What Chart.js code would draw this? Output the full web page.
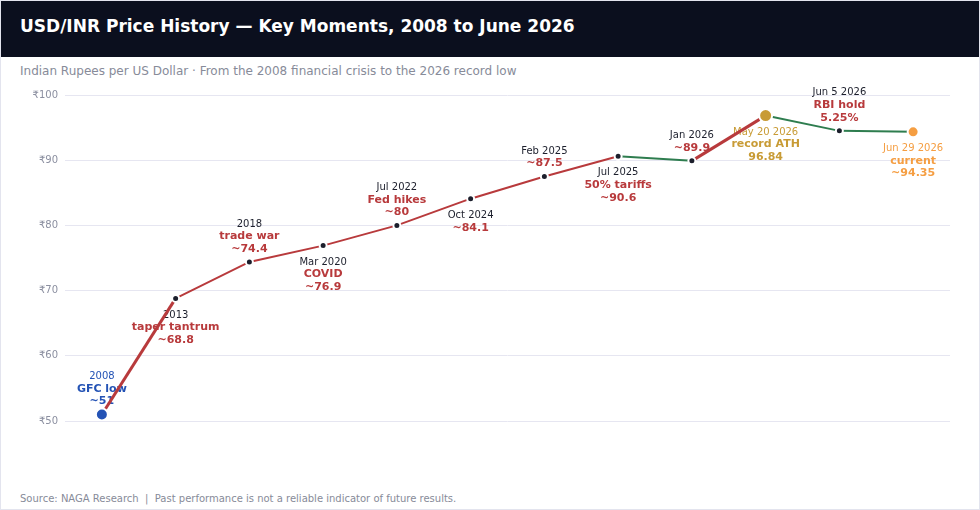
<!DOCTYPE html>
<html>
<head>
<meta charset="utf-8">
<title>USD/INR Price History</title>
<script src="https://cdn.jsdelivr.net/npm/chart.js@4/dist/chart.umd.min.js"></script>
<style>
  body { margin: 0; background: #fff; font-family: "DejaVu Sans", sans-serif; }
  .card {
    position: relative; width: 980px; height: 510px; box-sizing: border-box;
    border: 1px solid #e3e4ee; overflow: hidden; background: #fff;
  }
  .header { position: absolute; left: 0; top: 0; width: 100%; height: 56px; background: #0b0f1e; }
  .title { position: absolute; left: 19px; top: 15px; line-height: 20px; font-size: 17px; font-weight: bold; color: #fff; }
  .subtitle { position: absolute; left: 19px; top: 62px; line-height: 16px; font-size: 12px; color: #878b99; }
  .chart-wrap { position: absolute; left: 0; top: 80px; width: 978px; height: 353px; }
  .footer { position: absolute; left: 19px; top: 491px; line-height: 14px; font-size: 10px; color: #878b99; }
</style>
</head>
<body>
<div class="card">
  <div class="header"><div class="title">USD/INR Price History — Key Moments, 2008 to June 2026</div></div>
  <div class="subtitle">Indian Rupees per US Dollar · From the 2008 financial crisis to the 2026 record low</div>
  <div class="chart-wrap"><canvas id="inrChart"></canvas></div>
  <div class="footer">Source: NAGA Research &nbsp;|&nbsp; Past performance is not a reliable indicator of future results.</div>
</div>
<script>
// --- data ---
const moments = ['2008', '2013', '2018', 'Mar 2020', 'Jul 2022', 'Oct 2024', 'Feb 2025', 'Jul 2025', 'Jan 2026', 'May 20 2026', 'Jun 5 2026', 'Jun 29 2026'];
const usdInr = [51, 68.8, 74.4, 76.9, 80, 84.1, 87.5, 90.6, 89.9, 96.84, 94.5, 94.35];
const events = ['GFC low', 'taper tantrum', 'trade war', 'COVID', 'Fed hikes', '', '', '50% tariffs', '', 'record ATH', 'RBI hold', 'current'];
const valueLabels = ['~51', '~68.8', '~74.4', '~76.9', '~80', '~84.1', '~87.5', '~90.6', '~89.9', '96.84', '5.25%', '~94.35'];
const yMin = 50, yMax = 100, yStep = 10;

// --- colours ---
const RED = '#b83a3c';
const GREEN = '#2e7d4f';
const DARK = '#1c1f2c';
// special moments: low, record high, current
const special = {
    0: { color: '#2453b5', radius: 6 },
    9: { color: '#c89b35', radius: 6.5 },
    11: { color: '#f59e42', radius: 5.5 }
};

const pointColors = usdInr.map((_, i) => special[i] ? special[i].color : DARK);
const pointRadii = usdInr.map((_, i) => special[i] ? special[i].radius : 3.5);

// Labels drawn next to each point, alternating above / below
const momentLabels = {
    id: 'momentLabels',
    beforeDatasetsDraw(chart) {
        const { ctx, scales: { x, y } } = chart;
        ctx.save();
        ctx.textAlign = 'center';
        ctx.textBaseline = 'middle';
        usdInr.forEach((v, i) => {
            const px = x.getPixelForValue(i);
            const py = y.getPixelForValue(v);
            const sp = special[i];
            const lines = [{ text: moments[i], bold: false, color: sp ? sp.color : DARK }];
            if (events[i]) lines.push({ text: events[i], bold: true, color: sp ? sp.color : RED });
            lines.push({ text: valueLabels[i], bold: true, color: sp ? sp.color : RED });

            const above = i % 2 === 0;
            lines.forEach((ln, k) => {
                let ly;
                if (above) ly = py - 13 - (lines.length - 1 - k) * 12.5;
                else ly = py + 16.5 + k * 12.5;
                ctx.font = (ln.bold ? 'bold 11px' : '10px') + ' "DejaVu Sans"';
                ctx.fillStyle = ln.color;
                ctx.fillText(ln.text, px, ly);
            });
        });
        ctx.restore();
    }
};

Chart.defaults.font.family = '"DejaVu Sans", sans-serif';

const ctx = document.getElementById('inrChart').getContext('2d');
const inrChart = new Chart(ctx, {
    type: 'line',
    data: {
        labels: moments,
        datasets: [{
            label: 'USD/INR',
            data: usdInr,
            borderColor: RED,
            borderWidth: 2,
            tension: 0,
            fill: false,
            pointRadius: pointRadii,
            pointBackgroundColor: pointColors,
            pointBorderColor: '#ffffff',
            pointBorderWidth: 2,
            segment: {
                borderColor: c => c.p1.parsed.y >= c.p0.parsed.y ? RED : GREEN,
                borderWidth: c => Math.abs(c.p1.parsed.y - c.p0.parsed.y) > 6 ? 3 : 2
            }
        }]
    },
    options: {
        responsive: true,
        maintainAspectRatio: false,
        animation: false,
        layout: { padding: { top: 14, right: 29, bottom: 8, left: 0 } },
        plugins: { legend: { display: false }, tooltip: { enabled: false } },
        scales: {
            x: { display: false, offset: true },
            y: {
                min: yMin, max: yMax,
                afterFit: s => { s.width = 64; },
                border: { display: false },
                grid: { color: '#e6e6f1', drawTicks: false },
                ticks: {
                    stepSize: yStep,
                    padding: 7,
                    color: '#8b8fa0',
                    font: { size: 10 },
                    callback: v => '₹' + v
                }
            }
        }
    },
    plugins: [momentLabels]
});
</script>
</body>
</html>
